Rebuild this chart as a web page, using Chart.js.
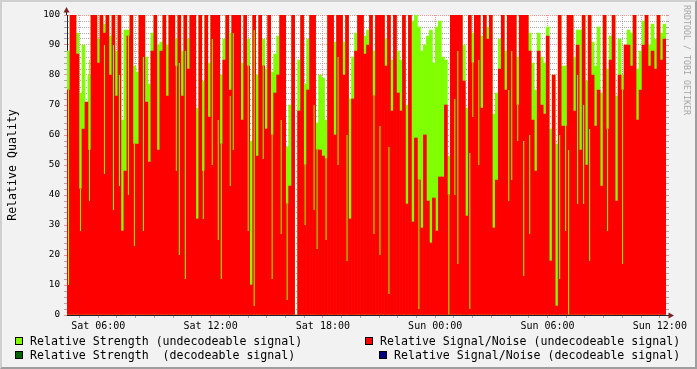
<!DOCTYPE html>
<html>
<head>
<meta charset="utf-8">
<script src="https://cdn.jsdelivr.net/npm/chart.js@4/dist/chart.umd.min.js"></script>
<style>
  html, body { margin: 0; padding: 0; background: #f2f2f2; overflow: hidden; }
  #wrap { position: relative; width: 697px; height: 369px; background: #f2f2f2; font-family: 'DejaVu Sans Mono', monospace; color: #000; }
  #chart { position: absolute; left: 0; top: 0; }
  #frame { position: absolute; left: 0; top: 0; width: 697px; height: 369px; box-sizing: border-box;
           border-top: 2px solid #cfcfcf; border-left: 2px solid #cfcfcf;
           border-right: 2px solid #9e9e9e; border-bottom: 2px solid #9e9e9e; pointer-events: none; }
  .ytitle { position: absolute; left: 12px; top: 165px; transform: translate(-50%, -50%) rotate(-90deg); font-size: 11.6px; white-space: pre; }
  .wm { position: absolute; left: 687px; top: 60px; transform: translate(-50%, -50%) rotate(90deg); font-size: 8.3px; color: #a4a4a4; white-space: pre; }
  .lg { position: absolute; font-size: 11.6px; line-height: 14px; white-space: pre; }
  .box { position: absolute; width: 8px; height: 8px; box-sizing: border-box; border: 1px solid #000; }
</style>
</head>
<body>
<div id="wrap">
  <canvas id="chart" width="697" height="369"></canvas>
  <div class="ytitle">Relative Quality</div>
  <div class="wm">RRDTOOL / TOBI OETIKER</div>

  <div class="box" style="left:15px;top:337px;background:#80ff00"></div>
  <div class="lg" style="left:30px;top:334px">Relative Strength (undecodeable signal)</div>
  <div class="box" style="left:365px;top:337px;background:#ff0000"></div>
  <div class="lg" style="left:380px;top:334px">Relative Signal/Noise (undecodeable signal)</div>
  <div class="box" style="left:15px;top:351px;background:#006400"></div>
  <div class="lg" style="left:30px;top:348px">Relative Strength  (decodeable signal)</div>
  <div class="box" style="left:379px;top:351px;background:#000080"></div>
  <div class="lg" style="left:394px;top:348px">Relative Signal/Noise (decodeable signal)</div>

  <div id="frame"></div>
</div>
<script>
// time window in hours after Sat 00:00
const tStart = 4.33;
const tEnd = 36.33;

const timeLabelHours = [6, 12, 18, 24, 30, 36];
const timeLabels = ["Sat 06:00", "Sat 12:00", "Sat 18:00", "Sun 00:00", "Sun 06:00", "Sun 12:00"];

// relative signal/noise (undecodeable), one value per ~9.6 min step
const snUndec = [
  75,100,100,87,42,62,71,55,100,100, 84,100,94,100,80,100,73,100,28,48,
  93,100,57,57,100,100,71,51,88,100, 55,88,100,73,100,100,83,100,73,100,
  82,100,100,32,100,48,100,66,100,100, 100,57,85,100,75,100,100,100,65,100,
  83,10,100,53,100,83,62,100,60,74, 80,100,100,37,43,100,0,68,100,50,
  75,100,100,55,55,53,52,100,100,60, 100,100,80,100,32,72,88,100,100,87,
  90,100,73,100,100,100,83,100,68,100, 74,68,100,37,100,31,59,45,29,60,
  38,24,39,28,46,46,70,40,100,100, 100,100,78,33,100,84,100,100,69,100,
  92,100,29,45,82,100,75,100,100,100, 70,100,100,100,88,65,48,88,70,67,
  93,18,80,3,100,63,63,100,100,68, 90,55,100,50,100,80,63,75,43,100,
  62,85,100,38,80,75,90,90,83,100, 65,75,90,100,83,88,82,100,85,92
];

// relative strength (undecodeable)
const strUndec = [
  88,100,100,94,74,90,71,80,100,100, 92,100,97,100,93,100,88,100,65,95,
  95,100,83,81,100,100,86,77,94,100, 90,91,100,90,100,100,92,100,88,100,
  92,100,100,69,100,78,100,84,100,100, 100,80,92,100,94,100,100,100,84,100,
  92,58,100,80,100,92,82,100,81,87, 93,100,100,56,70,100,0,85,100,77,
  92,100,100,64,80,79,65,100,100,91, 100,100,91,100,72,86,94,100,100,93,
  95,100,88,100,100,100,92,100,85,100, 88,85,100,70,100,98,100,96,88,90,
  93,95,84,96,98,86,85,53,100,100, 100,100,90,69,100,94,100,100,93,100,
  96,100,67,74,92,100,88,100,100,100, 86,100,100,100,94,84,75,94,86,84,
  96,62,80,57,100,83,83,100,100,86, 95,95,100,78,100,91,83,96,74,100,
  82,93,100,73,92,80,90,95,94,100, 82,88,98,100,90,97,92,100,94,97
];

// short single-pixel strength spikes inside a step: step index, S/N low, strength top
const spikeStep = [0,4,7,12,15,17,20,22,25,36,37,39,45,48,50,51,54,55,60,62,65,68,71,73,79,82,83,86,90,93,
  102,104,107,117,127,129,130,134,135,137,147,148,150,152,154,164,166,167,170,172,174,180,185];
const spikeLow = [10,28,38,47,35,43,40,23,28,48,20,12,32,50,25,12,43,55,28,3,52,12,27,5,30,35,22,25,50,18,
  27,20,7,2,0,40,17,2,66,50,38,45,58,13,27,12,28,0,37,37,18,28,17];
const spikeHigh = [75,42,85,90,90,80,93,57,86,84,84,88,50,92,65,57,73,94,83,95,83,60,65,37,50,70,55,52,86,60,
  73,63,56,45,40,72,88,54,84,85,75,88,70,58,60,60,68,55,80,70,62,62,75];

const GREEN = "#80ff00";
const RED = "#ff0000";
const GRID = "rgba(143,143,143,0.75)";
const MGRID = "rgba(222,79,79,0.6)";
const AXIS = "#1f1f2f";
const ARROW = "#801f1f";
const FONT = "'DejaVu Sans Mono', monospace";

const stepLabels = snUndec.map((_, i) => String(i));
const spikeData = snUndec.map(() => null);
spikeStep.forEach((s, k) => { spikeData[s] = [spikeLow[k], spikeHigh[k]]; });

const rrdExtras = {
  id: "rrdExtras",
  beforeDraw(chart) {
    const c = chart.ctx, a = chart.chartArea;
    c.save();
    c.fillStyle = "#f2f2f2";
    c.fillRect(0, 0, chart.width, chart.height);
    c.fillStyle = "#ffffff";
    c.fillRect(a.left, a.top, a.right - a.left, a.bottom - a.top);
    c.restore();
  },
  afterDraw(chart) {
    const c = chart.ctx, a = chart.chartArea, y = chart.scales.y;
    c.save();
    // ticks on right side of canvas
    for (let v = 0; v <= 100; v += 2) {
      const py = Math.round(y.getPixelForValue(v)) + 0.5;
      c.strokeStyle = v % 10 === 0 ? MGRID : GRID;
      c.beginPath();
      c.moveTo(a.right, py);
      c.lineTo(a.right + 3, py);
      c.stroke();
    }
    // axis extensions and arrows
    const ax = Math.round(a.left) - 0.5, by = Math.round(a.bottom) + 0.5;
    c.strokeStyle = AXIS;
    c.lineWidth = 1;
    c.beginPath();
    c.moveTo(ax, a.top); c.lineTo(ax, a.top - 5);
    c.moveTo(a.right, by); c.lineTo(a.right + 5, by);
    c.stroke();
    c.fillStyle = ARROW;
    c.beginPath();
    c.moveTo(ax, a.top - 8); c.lineTo(ax - 3, a.top - 2.5); c.lineTo(ax + 3, a.top - 2.5);
    c.closePath(); c.fill();
    c.beginPath();
    c.moveTo(a.right + 8, by); c.lineTo(a.right + 2.5, by - 3); c.lineTo(a.right + 2.5, by + 3);
    c.closePath(); c.fill();
    c.restore();
  }
};

new Chart(document.getElementById("chart").getContext("2d"), {
  type: "bar",
  data: {
    labels: stepLabels,
    datasets: [
      {
        label: "spikes",
        data: spikeData,
        backgroundColor: GREEN,
        barPercentage: 0.34,
        categoryPercentage: 1,
        inflateAmount: 0,
        grouped: false,
        order: 0
      },
      {
        label: "Relative Signal/Noise (undecodeable signal)",
        data: snUndec,
        backgroundColor: RED,
        barPercentage: 1,
        categoryPercentage: 1,
        grouped: false,
        order: 1
      },
      {
        label: "Relative Strength (undecodeable signal)",
        data: strUndec,
        backgroundColor: GREEN,
        barPercentage: 1,
        categoryPercentage: 1,
        grouped: false,
        order: 2
      }
    ]
  },
  options: {
    responsive: false,
    animation: false,
    devicePixelRatio: 1,
    layout: { padding: { top: 15, right: 31, bottom: 0, left: 0 } },
    plugins: { legend: { display: false }, tooltip: { enabled: false } },
    scales: {
      x: { type: "category", display: false, offset: true, grid: { offset: true } },
      xt: {
        type: "linear",
        axis: "x",
        position: "bottom",
        min: tStart,
        max: tEnd,
        offset: false,
        z: 1,
        grid: {
          offset: false,
          color: (c) => (c.tick && c.tick.value % 3 === 0 ? MGRID : GRID),
          tickColor: (c) => (c.tick && c.tick.value % 3 === 0 ? MGRID : GRID),
          tickLength: 3,
          tickBorderDash: []
        },
        border: { display: true, color: AXIS, width: 1, dash: [1, 1] },
        ticks: {
          autoSkip: false,
          maxRotation: 0,
          minRotation: 0,
          padding: 2,
          color: "#000",
          font: { family: FONT, size: 10 },
          callback: (v) => {
            const k = timeLabelHours.indexOf(v);
            return k >= 0 ? timeLabels[k] : "";
          }
        },
        afterBuildTicks: (s) => {
          const t = [];
          for (let h = Math.ceil(tStart); h <= Math.floor(tEnd); h++) t.push({ value: h });
          s.ticks = t;
        },
        afterFit: (s) => { s.height = 54; s.paddingLeft = 0; s.paddingRight = 0; }
      },
      y: {
        type: "linear",
        position: "left",
        min: 0,
        max: 100,
        z: 1,
        grid: {
          color: (c) => (c.tick && c.tick.value % 10 === 0 ? MGRID : GRID),
          tickColor: (c) => (c.tick && c.tick.value % 10 === 0 ? MGRID : GRID),
          tickLength: 3,
          tickBorderDash: []
        },
        border: { display: true, color: AXIS, width: 1, dash: [1, 1] },
        ticks: {
          autoSkip: false,
          padding: 4,
          color: "#000",
          font: { family: FONT, size: 9.3 },
          callback: (v) => (v % 10 === 0 ? String(v) : "")
        },
        afterBuildTicks: (s) => {
          const t = [];
          for (let v = 0; v <= 100; v += 2) t.push({ value: v });
          s.ticks = t;
        },
        afterFit: (s) => { s.width = 67; s.paddingTop = 0; s.paddingBottom = 0; }
      }
    }
  },
  plugins: [rrdExtras]
});
</script>
</body>
</html>
